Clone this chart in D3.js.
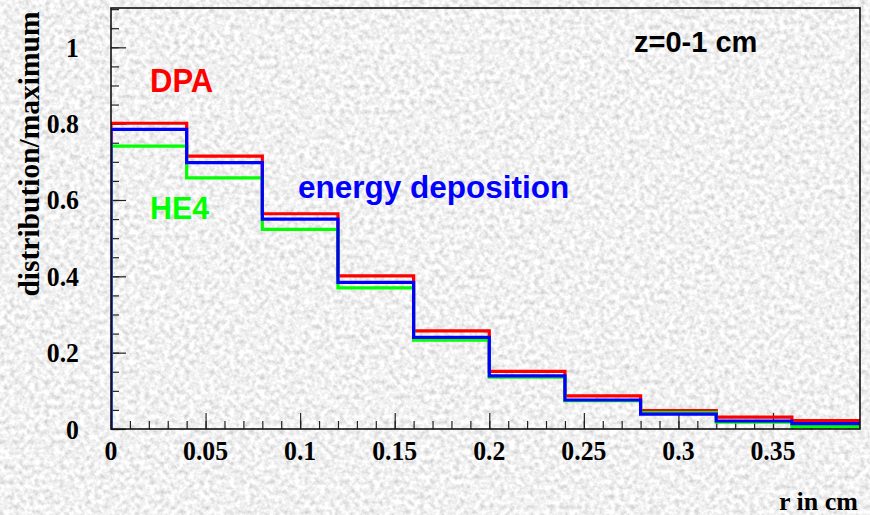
<!DOCTYPE html>
<html>
<head>
<meta charset="utf-8">
<script src="https://cdn.jsdelivr.net/npm/d3@7/dist/d3.min.js"></script>
<style>
  html, body { margin: 0; padding: 0; background: #dedede; }
  svg { display: block; }
</style>
</head>
<body>
<svg id="chart" width="870" height="515"></svg>
<script>
// Radial profile of deposited quantities, z = 0-1 cm slice, normalised to maximum
const binEdges = [0, 0.04, 0.08, 0.12, 0.16, 0.20, 0.24, 0.28, 0.32, 0.36, 0.40];
const dpa  = [0.801, 0.715, 0.564, 0.401, 0.257, 0.151, 0.087, 0.048, 0.031, 0.022];
const he4  = [0.741, 0.658, 0.523, 0.370, 0.233, 0.136, 0.074, 0.043, 0.018, 0.006];
const edep = [0.785, 0.698, 0.550, 0.384, 0.240, 0.139, 0.076, 0.039, 0.021, 0.014];

const xMajorTicks = [0, 0.05, 0.1, 0.15, 0.2, 0.25, 0.3, 0.35];
const xTickLabels = ["0", "0.05", "0.1", "0.15", "0.2", "0.25", "0.3", "0.35"];
const yMajorTicks = [0, 0.2, 0.4, 0.6, 0.8, 1];
const yTickLabels = ["0", "0.2", "0.4", "0.6", "0.8", "1"];

const series = [
  { name: "DPA", values: dpa, color: "#ff0000" },
  { name: "HE4", values: he4, color: "#00ff00" },
  { name: "energy deposition", values: edep, color: "#0000ff" }
];

const W = 870, H = 515;
const frame = { left: 111, right: 860, top: 8, bottom: 429 };

const svg = d3.select("#chart");

// grainy paper-like backdrop
const defs = svg.append("defs");
const grain = defs.append("filter").attr("id", "grain")
  .attr("x", 0).attr("y", 0).attr("width", W).attr("height", H)
  .attr("filterUnits", "userSpaceOnUse");
grain.append("feTurbulence")
  .attr("type", "fractalNoise").attr("baseFrequency", "0.2")
  .attr("numOctaves", 3).attr("seed", 7).attr("result", "n");
grain.append("feColorMatrix").attr("in", "n").attr("type", "matrix")
  .attr("values", "0.7 0 0 0 0.53  0.7 0 0 0 0.53  0.7 0 0 0 0.53  0 0 0 0 1");
svg.append("rect").attr("width", W).attr("height", H).attr("filter", "url(#grain)");

defs.append("clipPath").attr("id", "plotClip").append("rect")
  .attr("x", frame.left).attr("y", frame.top)
  .attr("width", frame.right - frame.left).attr("height", frame.bottom - frame.top);

const x = d3.scaleLinear().domain([0, 0.396]).range([frame.left, frame.right]);
const y = d3.scaleLinear().domain([0, 1.103]).range([frame.bottom, frame.top]);

// axes with ticks pointing into the frame
const xMinor = d3.range(0, 0.3961, 0.01).map(v => +v.toFixed(3));
const yMinor = d3.range(0, 1.1001, 0.05).map(v => +v.toFixed(3));

const xAxisMinor = d3.axisTop(x).tickValues(xMinor).tickSize(8).tickFormat("");
const xAxisMajor = d3.axisTop(x).tickValues(xMajorTicks).tickSize(16).tickFormat("");
const yAxisMinor = d3.axisRight(y).tickValues(yMinor).tickSize(8).tickFormat("");
const yAxisMajor = d3.axisRight(y).tickValues(yMajorTicks).tickSize(15).tickFormat("");

function styleAxis(g) {
  g.select(".domain").remove();
  g.selectAll("line").attr("stroke", "#222").attr("stroke-width", 1.2);
}
svg.append("g").attr("transform", `translate(0,${frame.bottom})`).call(xAxisMinor).call(styleAxis);
svg.append("g").attr("transform", `translate(0,${frame.bottom})`).call(xAxisMajor).call(styleAxis);
svg.append("g").attr("transform", `translate(${frame.left},0)`).call(yAxisMinor).call(styleAxis);
svg.append("g").attr("transform", `translate(${frame.left},0)`).call(yAxisMajor).call(styleAxis);

// tick labels (slightly condensed bold serif)
const tickFont = "'Liberation Serif', 'Times New Roman', serif";
svg.append("g").selectAll("text").data(xMajorTicks).join("text")
  .attr("transform", d => `translate(${x(d)},460) scale(0.92,1)`)
  .attr("text-anchor", "middle")
  .attr("font-family", tickFont).attr("font-weight", "bold").attr("font-size", 28)
  .text((d, i) => xTickLabels[i]);
svg.append("g").selectAll("text").data(yMajorTicks).join("text")
  .attr("transform", d => `translate(79,${y(d) + 9.5}) scale(0.92,1)`)
  .attr("text-anchor", "end")
  .attr("font-family", tickFont).attr("font-weight", "bold").attr("font-size", 28)
  .text((d, i) => yTickLabels[i]);

// axis titles
svg.append("text")
  .attr("x", 858).attr("y", 510).attr("text-anchor", "end")
  .attr("font-family", tickFont).attr("font-weight", "bold").attr("font-size", 26)
  .text("r in cm");
svg.append("text")
  .attr("transform", "translate(39,154) rotate(-90)")
  .attr("text-anchor", "middle")
  .attr("font-family", tickFont).attr("font-weight", "bold").attr("font-size", 29.5)
  .text("distribution/maximum");

// step histograms
const plot = svg.append("g").attr("clip-path", "url(#plotClip)");
function stepPoints(values) {
  const pts = [[binEdges[0], 0]];
  values.forEach((v, i) => {
    pts.push([binEdges[i], v]);
    pts.push([binEdges[i + 1], v]);
  });
  pts.push([binEdges[binEdges.length - 1], 0]);
  return pts;
}
const line = d3.line().x(d => x(d[0])).y(d => y(d[1]));
plot.selectAll("path.hist").data(series).join("path")
  .attr("class", "hist")
  .attr("d", d => line(stepPoints(d.values)))
  .attr("fill", "none")
  .attr("stroke", d => d.color)
  .attr("stroke-width", 3.2)
  .attr("stroke-linejoin", "miter");

// frame
svg.append("rect")
  .attr("x", frame.left).attr("y", frame.top)
  .attr("width", frame.right - frame.left).attr("height", frame.bottom - frame.top)
  .attr("fill", "none").attr("stroke", "#111").attr("stroke-width", 1.6);

// annotations
const sans = "'Liberation Sans', Arial, Helvetica, sans-serif";
svg.append("text").attr("x", 634).attr("y", 52)
  .attr("font-family", sans).attr("font-weight", "bold").attr("font-size", 29)
  .attr("fill", "#000").text("z=0-1 cm");
svg.append("text").attr("transform", "translate(150,92) scale(0.94,1)")
  .attr("font-family", sans).attr("font-weight", "bold").attr("font-size", 33)
  .attr("fill", series[0].color).text(series[0].name);
svg.append("text").attr("transform", "translate(150,219) scale(0.95,1)")
  .attr("font-family", sans).attr("font-weight", "bold").attr("font-size", 32)
  .attr("fill", series[1].color).text(series[1].name);
svg.append("text").attr("x", 298).attr("y", 198)
  .attr("font-family", sans).attr("font-weight", "bold").attr("font-size", 31.5)
  .attr("fill", series[2].color).text(series[2].name);
</script>
</body>
</html>
